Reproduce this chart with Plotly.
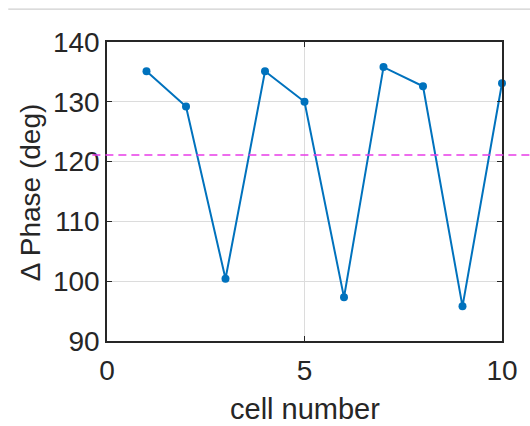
import plotly.graph_objects as go

cells = [1, 2, 3, 4, 5, 6, 7, 8, 9, 10]
delta_phase = [135.1, 129.2, 100.4, 135.1, 130.0, 97.3, 135.8, 132.6, 95.8, 133.1]
reference_phase = 121.1
x_ticks = [0, 5, 10]
y_ticks = [90, 100, 110, 120, 130, 140]
x_title = "cell number"
y_title = "Δ Phase (deg)"

FONT = "Liberation Sans, Arial, sans-serif"
TXT = "#262626"

fig = go.Figure()
fig.add_trace(go.Scatter(
    x=cells, y=delta_phase, mode="lines+markers",
    line=dict(color="#0072BD", width=2),
    marker=dict(color="#0072BD", size=8),
    showlegend=False, cliponaxis=False,
))

# reference dashed line (extends past the axes box)
fig.add_shape(type="line", xref="paper", yref="y",
              x0=-0.037, x1=1.1, y0=reference_phase, y1=reference_phase,
              line=dict(color="#E83CE8", width=1.6, dash="8px,5px"))
# light gray rule at top of image
fig.add_shape(type="line", xref="paper", yref="paper",
              x0=-0.25, x1=1.1, y0=1.11, y1=1.11,
              line=dict(color="#CFCFCF", width=1.2))

# axis titles as annotations for exact placement
fig.add_annotation(text=x_title, xref="paper", yref="paper", x=0.5, y=-0.228,
                   xanchor="center", yanchor="middle", showarrow=False,
                   font=dict(family=FONT, size=29, color=TXT))
fig.add_annotation(text=y_title, xref="paper", yref="paper", x=-0.192, y=0.495,
                   xanchor="center", yanchor="middle", showarrow=False, textangle=-90,
                   font=dict(family=FONT, size=28, color=TXT))

fig.update_layout(
    width=530, height=426,
    margin=dict(l=107, r=17, t=42, b=85),
    paper_bgcolor="white", plot_bgcolor="white",
    font=dict(family=FONT, color=TXT, size=28),
    xaxis=dict(range=[0, 10], tickvals=x_ticks, ticks="inside", ticklen=5,
               tickcolor="#262626", showline=True, linecolor="#262626", linewidth=1.5,
               mirror="ticks", showgrid=True, gridcolor="#DCDCDC", gridwidth=1,
               zeroline=False, tickfont=dict(size=28), ticklabelstandoff=4),
    yaxis=dict(range=[90, 140], tickvals=y_ticks, ticks="inside", ticklen=5,
               tickcolor="#262626", showline=True, linecolor="#262626", linewidth=1.5,
               mirror="ticks", showgrid=True, gridcolor="#DCDCDC", gridwidth=1,
               zeroline=False, tickfont=dict(size=28)),
)

fig.write_html("out.html")
